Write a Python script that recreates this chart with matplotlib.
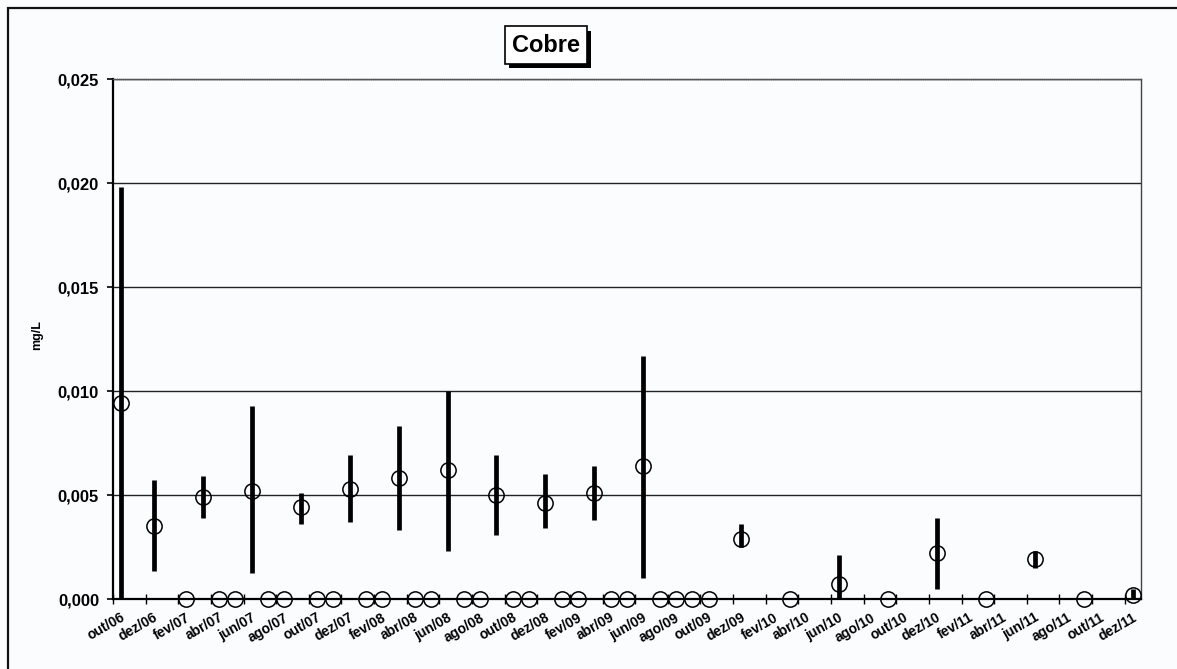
import numpy as np
import matplotlib
matplotlib.use("Agg")
import matplotlib.pyplot as plt
from matplotlib import patheffects as pe
from matplotlib.patches import Rectangle

plt.rcParams['font.family'] = ['Liberation Sans', 'DejaVu Sans']

# monthly categories out/06 .. dez/11
meses = ['jan', 'fev', 'mar', 'abr', 'mai', 'jun', 'jul', 'ago', 'set', 'out', 'nov', 'dez']
categorias = []
for ano in range(2006, 2012):
    for m, nome in enumerate(meses):
        if ano == 2006 and m < 9:
            continue
        categorias.append('%s/%02d' % (nome, ano % 100))

nan = np.nan
# mean value (circle), min and max (bar) in mg/L; nan = no sample
media = [0.0094, nan, 0.0035, nan, 0.0, 0.0049, 0.0, 0.0, 0.0052, 0.0, 0.0, 0.0044,
         0.0, 0.0, 0.0053, 0.0, 0.0, 0.0058, 0.0, 0.0, 0.0062, 0.0, 0.0, 0.0050,
         0.0, 0.0, 0.0046, 0.0, 0.0, 0.0051, 0.0, 0.0, 0.0064, 0.0, 0.0, 0.0,
         0.0, nan, 0.0029, nan, nan, 0.0, nan, nan, 0.0007, nan, nan, 0.0,
         nan, nan, 0.0022, nan, nan, 0.0, nan, nan, 0.0019, nan, nan, 0.0,
         nan, nan, 0.0002]
minimo = [0.0, nan, 0.00135, nan, 0.0, 0.0039, 0.0, 0.0, 0.00125, 0.0, 0.0, 0.0036,
          0.0, 0.0, 0.0037, 0.0, 0.0, 0.0033, 0.0, 0.0, 0.0023, 0.0, 0.0, 0.0031,
          0.0, 0.0, 0.0034, 0.0, 0.0, 0.0038, 0.0, 0.0, 0.0010, 0.0, 0.0, 0.0,
          0.0, nan, 0.0025, nan, nan, 0.0, nan, nan, 0.0, nan, nan, 0.0,
          nan, nan, 0.0005, nan, nan, 0.0, nan, nan, 0.0015, nan, nan, 0.0,
          nan, nan, 0.0]
maximo = [0.0198, nan, 0.0057, nan, 0.0, 0.0059, 0.0, 0.0, 0.0093, 0.0, 0.0, 0.0051,
          0.0, 0.0, 0.0069, 0.0, 0.0, 0.0083, 0.0, 0.0, 0.0100, 0.0, 0.0, 0.0069,
          0.0, 0.0, 0.0060, 0.0, 0.0, 0.0064, 0.0, 0.0, 0.0117, 0.0, 0.0, 0.0,
          0.0, nan, 0.0036, nan, nan, 0.0, nan, nan, 0.0021, nan, nan, 0.0,
          nan, nan, 0.0039, nan, nan, 0.0, nan, nan, 0.0023, nan, nan, 0.0,
          nan, nan, 0.0005]

x = np.arange(len(categorias))
media = np.array(media)
minimo = np.array(minimo)
maximo = np.array(maximo)

bg = '#fafcfe'
fig = plt.figure(figsize=(11.77, 6.69), dpi=100, facecolor=bg)
ax = fig.add_axes([113 / 1177, 1 - 599 / 669, (1141 - 113) / 1177, (599 - 79) / 669])
ax.set_facecolor(bg)

# outer chart border (cut at right and bottom as in the scan)
fig.patches.append(Rectangle((8 / 1177, -0.1), 1.2, 1.1 - 8 / 669, transform=fig.transFigure,
                             fill=False, edgecolor='#111111', linewidth=1.6))

# range bars
tem = maximo > minimo
ax.vlines(x[tem], minimo[tem], maximo[tem], color='black', linewidth=3.4, zorder=3)
# mean circles
ax.plot(x, media, linestyle='none', marker='o', markersize=11, markerfacecolor='none',
        markeredgecolor='black', markeredgewidth=1.1, clip_on=False, zorder=4)

ax.set_xlim(-0.5, len(categorias) - 0.5)
ax.set_ylim(0, 0.025)
yt = np.arange(0, 0.0251, 0.005)
ax.set_yticks(yt)
ax.set_yticklabels([('%.3f' % v).replace('.', ',') for v in yt])
ax.yaxis.grid(True, color='#222222', linewidth=1.0)
ax.set_axisbelow(True)

ax.set_xticks(np.arange(-0.5, len(categorias), 2))
ax.set_xticklabels([])
ax.tick_params(axis='x', direction='inout', length=7, width=1)
ax.tick_params(axis='y', direction='out', length=4, width=1.2, labelsize=12, pad=6)
for lab in ax.get_yticklabels():
    lab.set_fontweight('bold')

for i in x[::2]:
    ax.text(i - 0.05, -0.00055, categorias[i], rotation=30, rotation_mode='anchor',
            ha='right', va='top', fontsize=10, fontweight='bold')

for s in ['left', 'bottom']:
    ax.spines[s].set_linewidth(1.6)
ax.spines['right'].set_linewidth(1.0)
ax.spines['right'].set_color('#444444')
ax.spines['top'].set_linewidth(1.0)
ax.spines['top'].set_color('#555555')
ax.spines['top'].set_linestyle((0, (1, 0.5)))

fig.text(37 / 1177, 1 - 335 / 669, 'mg/L', rotation=90, ha='center', va='center',
         fontsize=9, fontweight='bold')

titulo = fig.text(546 / 1177, 1 - 45 / 669, 'Cobre', ha='center', va='center',
                  fontsize=17, fontweight='bold',
                  bbox=dict(boxstyle='square,pad=0.3', facecolor='white', edgecolor='black', linewidth=1.2))
titulo.get_bbox_patch().set_path_effects([pe.withSimplePatchShadow(offset=(3, -3), shadow_rgbFace='black', alpha=1.0)])

fig.savefig('out.png', dpi=100, facecolor=bg)
